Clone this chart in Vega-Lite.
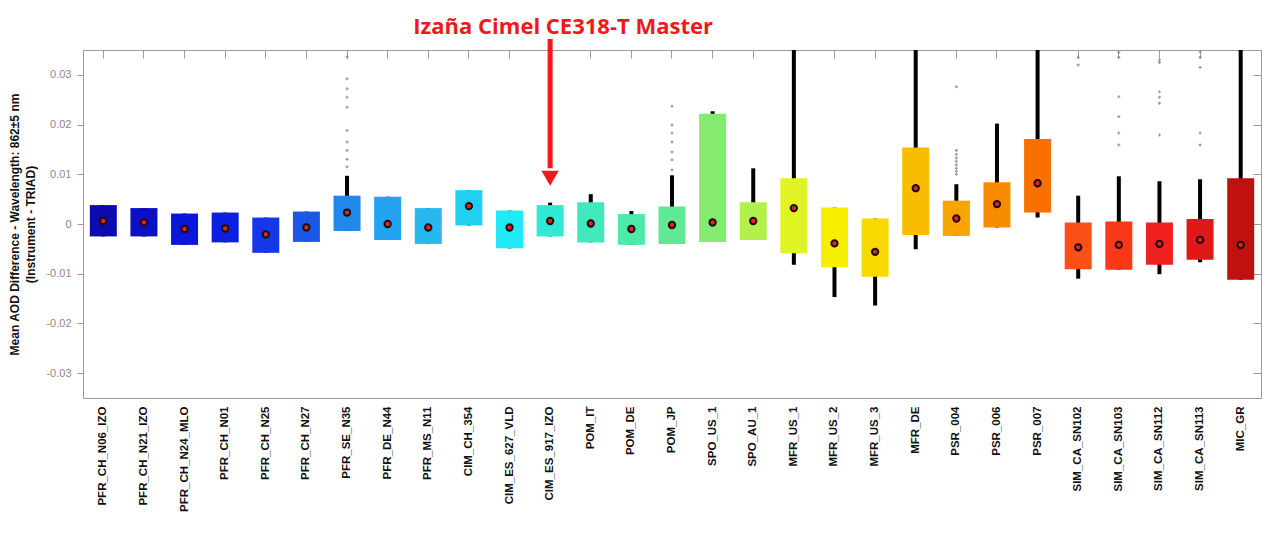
{
  "$schema": "https://vega.github.io/schema/vega-lite/v6.json",
  "width": 1178,
  "height": 348,
  "autosize": "none",
  "padding": {"left": 83, "top": 50, "right": 1, "bottom": 142},
  "background": "white",
  "config": {"view": {"stroke": "#9a9a9a", "strokeWidth": 1}, "font": "Liberation Sans"},
  "datasets": {
    "boxes": [
      {"name": "PFR_CH_N06_IZO", "lo": -0.0025, "q1": -0.0025, "med": 0.0006, "q3": 0.0038, "hi": 0.0038, "color": "#0c0cae"},
      {"name": "PFR_CH_N21_IZO", "lo": -0.0025, "q1": -0.0025, "med": 0.0003, "q3": 0.0032, "hi": 0.0032, "color": "#0a10c4"},
      {"name": "PFR_CH_N24_MLO", "lo": -0.0042, "q1": -0.0042, "med": -0.001, "q3": 0.0021, "hi": 0.0021, "color": "#0a16d8"},
      {"name": "PFR_CH_N01", "lo": -0.0037, "q1": -0.0037, "med": -0.0009, "q3": 0.0023, "hi": 0.0023, "color": "#0b20e0"},
      {"name": "PFR_CH_N25", "lo": -0.0058, "q1": -0.0058, "med": -0.0021, "q3": 0.0013, "hi": 0.0013, "color": "#1438e8"},
      {"name": "PFR_CH_N27", "lo": -0.0036, "q1": -0.0036, "med": -0.0007, "q3": 0.0025, "hi": 0.0025, "color": "#1c58e8"},
      {"name": "PFR_SE_N35", "lo": -0.0014, "q1": -0.0014, "med": 0.0023, "q3": 0.0057, "hi": 0.0097, "color": "#1f88ea"},
      {"name": "PFR_DE_N44", "lo": -0.0032, "q1": -0.0032, "med": 0.0, "q3": 0.0055, "hi": 0.0055, "color": "#22a2f0"},
      {"name": "PFR_MS_N11", "lo": -0.004, "q1": -0.004, "med": -0.0007, "q3": 0.0032, "hi": 0.0032, "color": "#28b8f0"},
      {"name": "CIM_CH_354", "lo": -0.0003, "q1": -0.0003, "med": 0.0036, "q3": 0.0068, "hi": 0.0068, "color": "#20d0f0"},
      {"name": "CIM_ES_627_VLD", "lo": -0.0049, "q1": -0.0049, "med": -0.0007, "q3": 0.0027, "hi": 0.0027, "color": "#20eaf6"},
      {"name": "CIM_ES_917_IZO", "lo": -0.0025, "q1": -0.0025, "med": 0.0006, "q3": 0.0038, "hi": 0.0043, "color": "#30e8d4"},
      {"name": "POM_IT", "lo": -0.0037, "q1": -0.0037, "med": 0.0001, "q3": 0.0044, "hi": 0.006, "color": "#40e8bc"},
      {"name": "POM_DE", "lo": -0.0042, "q1": -0.0042, "med": -0.001, "q3": 0.002, "hi": 0.0026, "color": "#50e8a8"},
      {"name": "POM_JP", "lo": -0.004, "q1": -0.004, "med": -0.0002, "q3": 0.0035, "hi": 0.0098, "color": "#60e894"},
      {"name": "SPO_US_1", "lo": -0.0036, "q1": -0.0036, "med": 0.0003, "q3": 0.0222, "hi": 0.0227, "color": "#84ea70"},
      {"name": "SPO_AU_1", "lo": -0.0032, "q1": -0.0032, "med": 0.0006, "q3": 0.0044, "hi": 0.0112, "color": "#b2f04c"},
      {"name": "MFR_US_1", "lo": -0.0082, "q1": -0.0059, "med": 0.0032, "q3": 0.0092, "hi": 0.035, "color": "#e0f424"},
      {"name": "MFR_US_2", "lo": -0.0147, "q1": -0.0087, "med": -0.0039, "q3": 0.0033, "hi": 0.0033, "color": "#f6f000"},
      {"name": "MFR_US_3", "lo": -0.0164, "q1": -0.0106, "med": -0.0056, "q3": 0.0011, "hi": 0.0011, "color": "#f8d800"},
      {"name": "MFR_DE", "lo": -0.0051, "q1": -0.0022, "med": 0.0072, "q3": 0.0154, "hi": 0.035, "color": "#f8bc00"},
      {"name": "PSR_004", "lo": -0.0024, "q1": -0.0024, "med": 0.0011, "q3": 0.0047, "hi": 0.008, "color": "#f8a400"},
      {"name": "PSR_006", "lo": -0.0007, "q1": -0.0007, "med": 0.004, "q3": 0.0084, "hi": 0.0202, "color": "#f88c00"},
      {"name": "PSR_007", "lo": 0.0013, "q1": 0.0023, "med": 0.0082, "q3": 0.0171, "hi": 0.035, "color": "#f87000"},
      {"name": "SIM_CA_SN102", "lo": -0.011, "q1": -0.0091, "med": -0.0047, "q3": 0.0003, "hi": 0.0057, "color": "#f85018"},
      {"name": "SIM_CA_SN103", "lo": -0.0092, "q1": -0.0092, "med": -0.0042, "q3": 0.0005, "hi": 0.0096, "color": "#f83818"},
      {"name": "SIM_CA_SN112", "lo": -0.0101, "q1": -0.0082, "med": -0.004, "q3": 0.0003, "hi": 0.0086, "color": "#f02020"},
      {"name": "SIM_CA_SN113", "lo": -0.0077, "q1": -0.0072, "med": -0.0032, "q3": 0.001, "hi": 0.009, "color": "#e01818"},
      {"name": "MIC_GR", "lo": -0.0112, "q1": -0.0112, "med": -0.0042, "q3": 0.0092, "hi": 0.035, "color": "#c01010"}
    ],
    "outliers": [
      {"name": "PFR_SE_N35", "v": 0.0336}, {"name": "PFR_SE_N35", "v": 0.0292}, {"name": "PFR_SE_N35", "v": 0.0272},
      {"name": "PFR_SE_N35", "v": 0.0255}, {"name": "PFR_SE_N35", "v": 0.0235}, {"name": "PFR_SE_N35", "v": 0.0188},
      {"name": "PFR_SE_N35", "v": 0.0165}, {"name": "PFR_SE_N35", "v": 0.0148}, {"name": "PFR_SE_N35", "v": 0.013},
      {"name": "PFR_SE_N35", "v": 0.0115},
      {"name": "POM_JP", "v": 0.0237}, {"name": "POM_JP", "v": 0.0199}, {"name": "POM_JP", "v": 0.0183},
      {"name": "POM_JP", "v": 0.0165}, {"name": "POM_JP", "v": 0.0145}, {"name": "POM_JP", "v": 0.0129},
      {"name": "POM_JP", "v": 0.0109},
      {"name": "PSR_004", "v": 0.0276}, {"name": "PSR_004", "v": 0.0148}, {"name": "PSR_004", "v": 0.014},
      {"name": "PSR_004", "v": 0.0133}, {"name": "PSR_004", "v": 0.0126}, {"name": "PSR_004", "v": 0.0119},
      {"name": "PSR_004", "v": 0.0112}, {"name": "PSR_004", "v": 0.0106}, {"name": "PSR_004", "v": 0.01},
      {"name": "SIM_CA_SN102", "v": 0.0335}, {"name": "SIM_CA_SN102", "v": 0.032},
      {"name": "SIM_CA_SN103", "v": 0.0345}, {"name": "SIM_CA_SN103", "v": 0.0335}, {"name": "SIM_CA_SN103", "v": 0.0256},
      {"name": "SIM_CA_SN103", "v": 0.0216}, {"name": "SIM_CA_SN103", "v": 0.0183}, {"name": "SIM_CA_SN103", "v": 0.0159},
      {"name": "SIM_CA_SN112", "v": 0.033}, {"name": "SIM_CA_SN112", "v": 0.0325}, {"name": "SIM_CA_SN112", "v": 0.0266},
      {"name": "SIM_CA_SN112", "v": 0.0255}, {"name": "SIM_CA_SN112", "v": 0.0243}, {"name": "SIM_CA_SN112", "v": 0.0179},
      {"name": "SIM_CA_SN113", "v": 0.0346}, {"name": "SIM_CA_SN113", "v": 0.0335}, {"name": "SIM_CA_SN113", "v": 0.0315},
      {"name": "SIM_CA_SN113", "v": 0.0183}, {"name": "SIM_CA_SN113", "v": 0.0159}
    ],
    "note": [
      {"name": "CIM_ES_917_IZO", "top": 0.0372, "bottom": 0.0112, "head": 0.0092, "labelY": 0.0397, "label": "Izaña Cimel CE318-T Master"}
    ]
  },
  "resolve": {"axis": {"x": "independent", "y": "independent"}},
  "layer": [
    {
      "data": {"name": "boxes"},
      "mark": {"type": "rule", "color": "black", "strokeWidth": 4, "clip": true},
      "encoding": {
        "x": {"field": "name", "type": "nominal", "sort": null, "axis": null,
          "scale": {"paddingInner": 0, "paddingOuter": 0,
            "domain": ["PFR_CH_N06_IZO", "PFR_CH_N21_IZO", "PFR_CH_N24_MLO", "PFR_CH_N01", "PFR_CH_N25", "PFR_CH_N27", "PFR_SE_N35", "PFR_DE_N44", "PFR_MS_N11", "CIM_CH_354", "CIM_ES_627_VLD", "CIM_ES_917_IZO", "POM_IT", "POM_DE", "POM_JP", "SPO_US_1", "SPO_AU_1", "MFR_US_1", "MFR_US_2", "MFR_US_3", "MFR_DE", "PSR_004", "PSR_006", "PSR_007", "SIM_CA_SN102", "SIM_CA_SN103", "SIM_CA_SN112", "SIM_CA_SN113", "MIC_GR"]}},
        "y": {"field": "lo", "type": "quantitative", "axis": null, "scale": {"domain": [-0.035, 0.035], "nice": false, "zero": false}},
        "y2": {"field": "hi"}
      }
    },
    {
      "data": {"name": "boxes"},
      "mark": {"type": "bar", "width": 27, "cornerRadius": 0},
      "encoding": {
        "x": {"field": "name", "type": "nominal", "sort": null,
          "axis": {"title": null, "orient": "bottom", "labelAngle": -90, "labelAlign": "right", "labelBaseline": "middle",
            "labelPadding": 8, "ticks": false, "domain": false, "labelFont": "Liberation Sans", "labelFontWeight": "bold",
            "labelFontSize": 11.5, "labelColor": "#111111", "labelLimit": 200}},
        "y": {"field": "q1", "type": "quantitative",
          "axis": {"title": ["Mean AOD Difference - Wavelength: 862±5 nm", "(Instrument - TRIAD)"],
            "titleFont": "Liberation Sans", "titleFontWeight": "bold", "titleFontSize": 12, "titleColor": "#111111",
            "titlePadding": 8, "titleLineHeight": 16,
            "values": [-0.03, -0.02, -0.01, 0, 0.01, 0.02, 0.03],
            "labelExpr": "datum.value == 0 ? '0' : replace(format(datum.value, '.2f'), '\u2212', '-')",
            "labelFont": "Liberation Sans", "labelFontSize": 11, "labelColor": "#8a8a8a", "labelPadding": 6,
            "tickColor": "#9a9a9a", "tickSize": 6, "domain": false, "grid": false}},
        "y2": {"field": "q3"},
        "color": {"field": "color", "type": "nominal", "scale": null}
      }
    },
    {
      "data": {"name": "boxes"},
      "mark": {"type": "point", "filled": true, "fill": "#ff1a1a", "stroke": "#111111", "strokeWidth": 2, "size": 40, "opacity": 1},
      "encoding": {
        "x": {"field": "name", "type": "nominal", "sort": null, "axis": null},
        "y": {"field": "med", "type": "quantitative", "axis": null}
      }
    },
    {
      "data": {"name": "outliers"},
      "mark": {"type": "point", "shape": "cross", "filled": true, "color": "#777777", "size": 9, "opacity": 0.75},
      "encoding": {
        "x": {"field": "name", "type": "nominal", "sort": null,
          "axis": {"orient": "top", "title": null, "labels": false, "domain": false, "ticks": true, "tickSize": -8, "tickColor": "#9a9a9a"}},
        "y": {"field": "v", "type": "quantitative",
          "axis": {"orient": "right", "title": null, "labels": false, "domain": false, "ticks": true, "tickSize": -8, "tickColor": "#9a9a9a",
            "values": [-0.03, -0.02, -0.01, 0, 0.01, 0.02, 0.03], "grid": false}}
      }
    },
    {
      "data": {"name": "note"},
      "mark": {"type": "rule", "color": "#f01818", "strokeWidth": 5, "clip": false},
      "encoding": {
        "x": {"field": "name", "type": "nominal", "sort": null, "axis": null},
        "y": {"field": "top", "type": "quantitative", "axis": null},
        "y2": {"field": "bottom"}
      }
    },
    {
      "data": {"name": "note"},
      "mark": {"type": "point", "shape": "triangle-down", "filled": true, "color": "#f01818", "size": 300, "opacity": 1, "clip": false},
      "encoding": {
        "x": {"field": "name", "type": "nominal", "sort": null, "axis": null},
        "y": {"field": "head", "type": "quantitative", "axis": null}
      }
    },
    {
      "data": {"name": "note"},
      "mark": {"type": "text", "font": "Open Sans", "fontWeight": "bold", "fontSize": 22, "color": "#f01818", "dx": 13, "baseline": "middle", "align": "center", "clip": false},
      "encoding": {
        "x": {"field": "name", "type": "nominal", "sort": null, "axis": null},
        "y": {"field": "labelY", "type": "quantitative", "axis": null},
        "text": {"field": "label"}
      }
    }
  ]
}
